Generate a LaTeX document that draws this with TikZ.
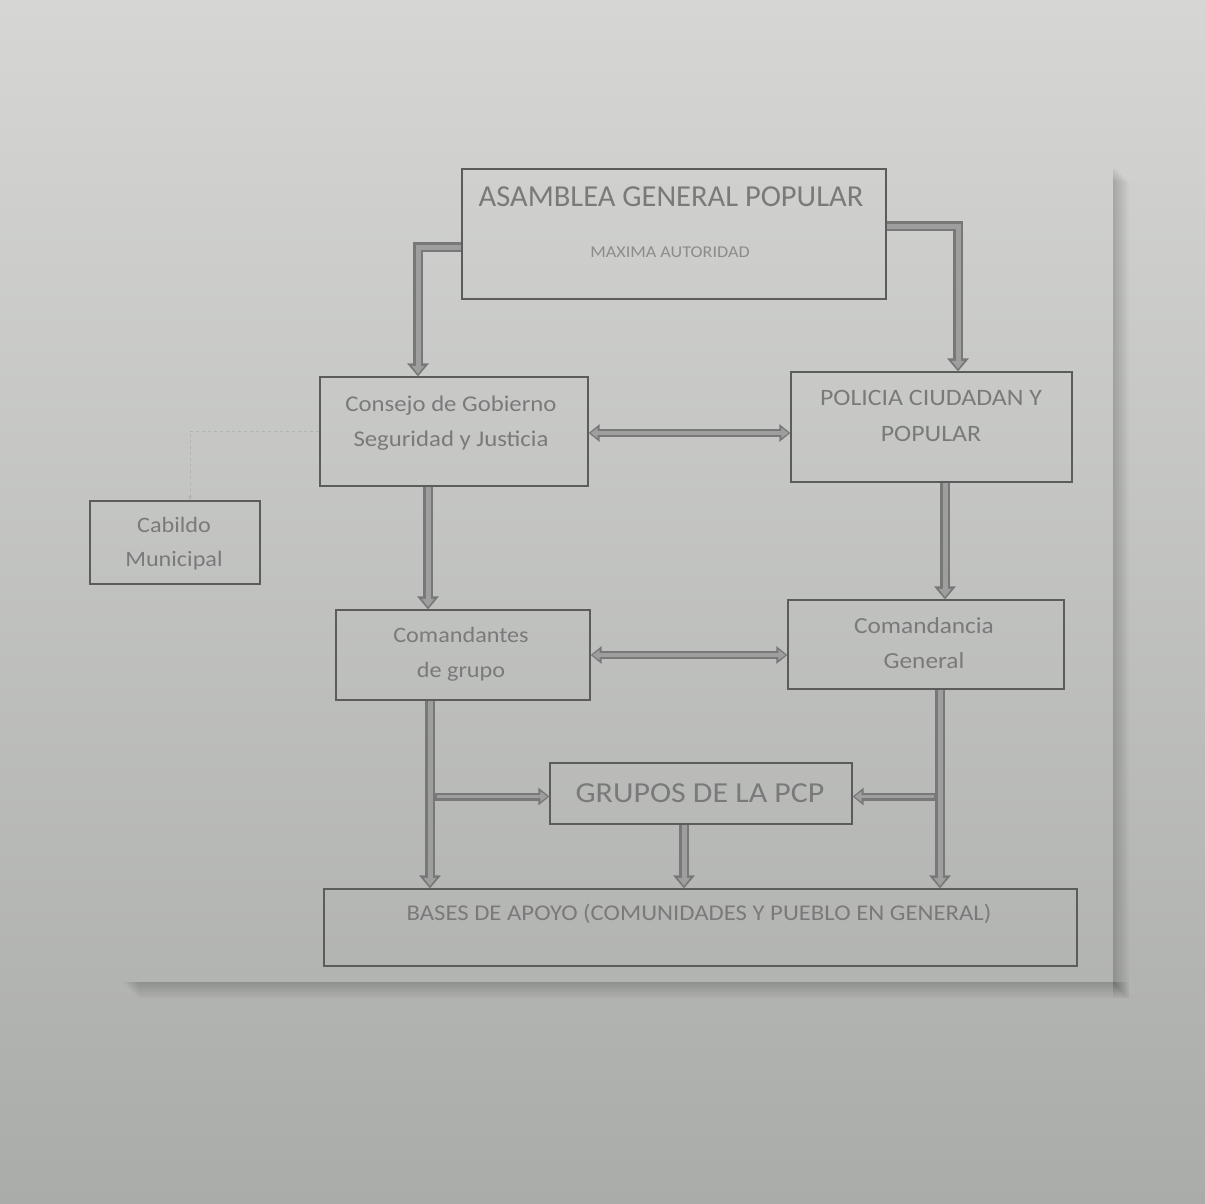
\documentclass[tikz,border=0pt]{standalone}
\usepackage{fontspec}
\setmainfont{Carlito}
\newfontfamily\wide[FakeStretch=1.1]{Carlito}
\usetikzlibrary{arrows.meta}
\definecolor{bgtop}{RGB}{214,215,213}
\definecolor{bgbot}{RGB}{170,172,170}
\definecolor{boxline}{RGB}{92,92,92}
\definecolor{txt}{RGB}{122,122,122}
\definecolor{txtfaint}{RGB}{140,140,140}
\definecolor{arrdark}{RGB}{120,120,120}
\definecolor{arrlight}{RGB}{158,158,158}
\tikzset{
  box/.style={draw=boxline, line width=1.2pt, rectangle, inner sep=0pt},
  lbl/.style={text=txt, align=center, inner sep=0pt},
  blk/.style={draw=arrdark, line width=10pt, line join=miter,
     -{Triangle[width=21pt,length=13pt]},
     postaction={draw=arrlight, line width=5pt, line join=miter,
       -{Triangle[width=12pt,length=8pt]}, shorten >=2.5pt}},
  dblk/.style={draw=arrdark, line width=8pt,
     {Triangle[width=17pt,length=11pt]}-{Triangle[width=17pt,length=11pt]},
     postaction={draw=arrlight, line width=3.5pt,
       {Triangle[width=10pt,length=7pt]}-{Triangle[width=10pt,length=7pt]}, shorten >=2pt, shorten <=2pt}},
  sblk/.style={draw=arrdark, line width=8pt,
     -{Triangle[width=17pt,length=11pt]},
     postaction={draw=arrlight, line width=3.5pt,
       -{Triangle[width=10pt,length=7pt]}, shorten >=2pt, shorten <=1.5pt}},
  faint/.style={draw=gray!60, line width=0.8pt, dash pattern=on 3pt off 3pt}
}
\begin{document}
\begin{tikzpicture}[x=1pt,y=-1pt]
\useasboundingbox (0,0) rectangle (1205,1203);
\shade[top color=bgtop, bottom color=bgbot] (0,0) rectangle (1205,1203);
% paper shadow (soft)
\foreach \w in {2,4,...,16} {
  \fill[black, opacity=0.025] (1113,165+\w) rectangle (1113+\w,982+\w);
  \fill[black, opacity=0.025] (122+\w,982) rectangle (1113+\w,982+\w);
}

% boxes
\node[box, minimum width=424pt, minimum height=130pt] (asm) at (674,234) {};
\node[lbl, font=\fontsize{30.5}{31}\selectfont] (asmT) at (671,197) {ASAMBLEA GENERAL POPULAR};
\node[lbl, text=txtfaint, font=\wide\fontsize{16.5}{17}\selectfont] (asmS) at (670,252) {MAXIMA AUTORIDAD};

\node[box, minimum width=268pt, minimum height=109pt] (consejo) at (454,431.5) {};
\node[lbl, font=\wide\fontsize{22.5}{35}\selectfont] (consejoT) at (451,423.5) {Consejo de Gobierno\\Seguridad y Justicia};

\node[box, minimum width=281pt, minimum height=110pt] (policia) at (931.5,427) {};
\node[lbl, font=\wide\fontsize{23.5}{36}\selectfont] (policiaT) at (931,416) {POLICIA CIUDADAN Y\\POPULAR};

\node[box, minimum width=170pt, minimum height=83pt] (cabildo) at (175,542.5) {};
\node[lbl, font=\wide\fontsize{22}{34}\selectfont] (cabildoT) at (174,544) {Cabildo\\Municipal};

\node[box, minimum width=254pt, minimum height=90pt] (comandantes) at (463,655) {};
\node[lbl, font=\wide\fontsize{22}{35}\selectfont] (comandantesT) at (461,654.5) {Comandantes\\de grupo};

\node[box, minimum width=276pt, minimum height=89pt] (comandancia) at (926,644.5) {};
\node[lbl, font=\wide\fontsize{23}{35}\selectfont] (comandanciaT) at (924,643.5) {Comandancia\\General};

\node[box, minimum width=302pt, minimum height=61pt] (grupos) at (701,793.5) {};
\node[lbl, font=\wide\fontsize{29}{30}\selectfont] (gruposT) at (700,793) {GRUPOS DE LA PCP};

\node[box, minimum width=753pt, minimum height=77pt] (bases) at (700.5,927.5) {};
\node[lbl, font=\wide\fontsize{22.5}{23}\selectfont] (basesT) at (699,914) {BASES DE APOYO (COMUNIDADES Y PUEBLO EN GENERAL)};

% connectors
\draw[blk] ([yshift=-13pt]asm.west) -| ([xshift=-36pt]consejo.north);
\draw[blk] ([yshift=8pt]asm.east) -| ([xshift=26.5pt]policia.north);
\draw[dblk] ([yshift=-1.5pt]consejo.east) -- ([yshift=-1.5pt]consejo.east -| policia.west);
\draw[blk] ([xshift=-26pt]consejo.south) coordinate (c1) -- (c1 |- comandantes.north);
\draw[blk] ([xshift=13.5pt]policia.south) coordinate (c2) -- (c2 |- comandancia.north);
\draw[dblk] (comandantes.east) -- (comandantes.east -| comandancia.west);
\draw[blk] ([xshift=-33pt]comandantes.south) coordinate (c3) -- (c3 |- bases.north);
\draw[blk] ([xshift=14pt]comandancia.south) coordinate (c4) -- (c4 |- bases.north);
\draw[blk] ([xshift=-17pt]grupos.south) coordinate (c5) -- (c5 |- bases.north);
\draw[sblk] ([xshift=5pt,yshift=-3pt]c3 |- grupos.west) -- ([yshift=-3pt]grupos.west);
\draw[sblk] ([xshift=-5pt,yshift=-3pt]c4 |- grupos.east) -- ([yshift=-3pt]grupos.east);
\draw[faint, -{Stealth[length=5pt,width=4pt]}] (consejo.west) -| ([xshift=15pt]cabildo.north);
\end{tikzpicture}
\end{document}
